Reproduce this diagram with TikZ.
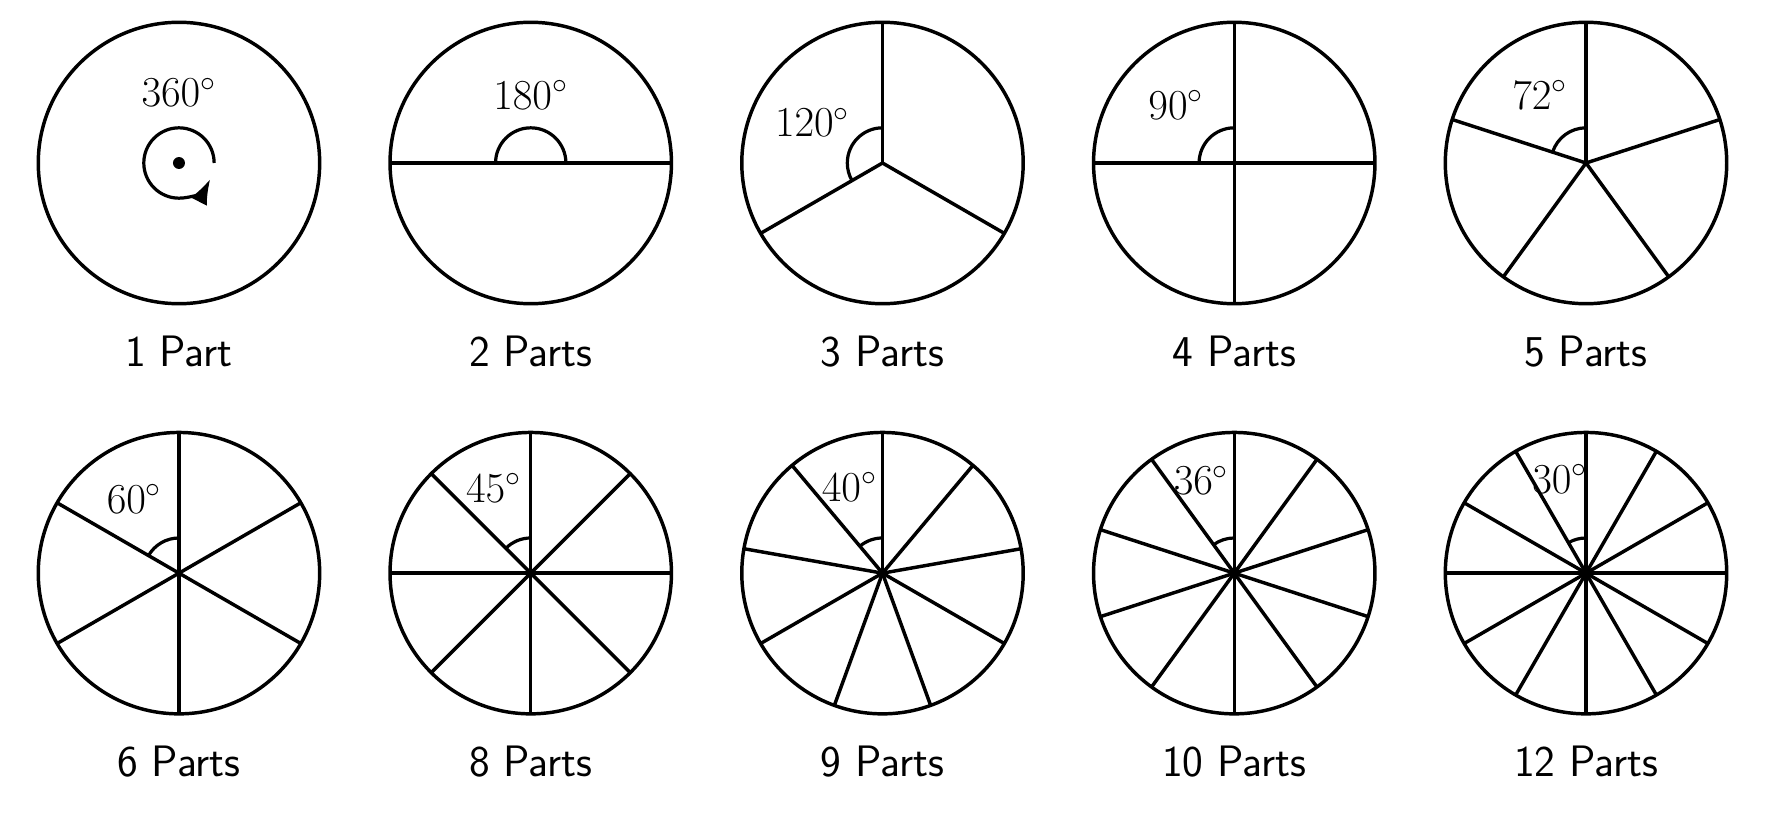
\documentclass[tikz,border=0pt]{standalone}
\usetikzlibrary{arrows.meta}

\tikzset{
	disc/.style={line width=1.4pt},
	spoke/.style={line width=1.4pt},
	anglemark/.style={line width=1.3pt},
	degreelabel/.style={inner sep=0pt, font=\fontsize{17.6}{20}\selectfont},
	partlabel/.style={inner sep=0pt, font=\sffamily\fontsize{17.8}{20}\selectfont},
}

\begin{document}
\begin{tikzpicture}
		% Fix the page to the size of the reference
		\useasboundingbox (-2.544,2.317) rectangle (22.587,-9.341);

		% Centres of the ten discs
		\coordinate (c1) at (0,0);
		\coordinate (c2) at (5,0);
		\coordinate (c3) at (10,0);
		\coordinate (c4) at (15,0);
		\coordinate (c5) at (20,0);
		\coordinate (c6) at (0,-5.83);
		\coordinate (c8) at (5,-5.83);
		\coordinate (c9) at (10,-5.83);
		\coordinate (c10) at (15,-5.83);
		\coordinate (c12) at (20,-5.83);

		% 1 Part: full turn round the centre dot
		\draw[disc] (c1) circle (2);
		\fill (c1) circle (0.085);
		\draw[anglemark, -{Latex[length=3.6mm,width=2.6mm]}] (c1) ++(0:0.5) arc[start angle=0, end angle=333, radius=0.5];
		\node[degreelabel] (d1) at ([shift={(90:1)}]c1) {$360^\circ$};
		\node[partlabel] (p1) at ([yshift=-2.68cm]c1) {1 Part};

		% 2 Parts
		\draw[disc] (c2) circle (2);
		\draw[spoke] (c2) -- ++(0:2);
		\draw[spoke] (c2) -- ++(180:2);
		\draw[anglemark] (c2) ++(0:0.5) arc[start angle=0, end angle=180, radius=0.5];
		\node[degreelabel] (d2) at ([shift={(90:0.97)}]c2) {$180^\circ$};
		\node[partlabel] (p2) at ([yshift=-2.68cm]c2) {2 Parts};

		% 3 Parts
		\draw[disc] (c3) circle (2);
		\foreach \a in {90,210,330} \draw[spoke] (c3) -- ++(\a:2);
		\draw[anglemark] (c3) ++(90:0.5) arc[start angle=90, end angle=210, radius=0.5];
		\node[degreelabel] (d3) at ([shift={(150:1.15)}]c3) {$120^\circ$};
		\node[partlabel] (p3) at ([yshift=-2.68cm]c3) {3 Parts};

		% 4 Parts
		\draw[disc] (c4) circle (2);
		\foreach \a in {0,90,180,270} \draw[spoke] (c4) -- ++(\a:2);
		\draw[anglemark] (c4) ++(90:0.5) arc[start angle=90, end angle=180, radius=0.5];
		\node[degreelabel] (d4) at ([shift={(135:1.17)}]c4) {$90^\circ$};
		\node[partlabel] (p4) at ([yshift=-2.68cm]c4) {4 Parts};

		% 5 Parts
		\draw[disc] (c5) circle (2);
		\foreach \a in {18,90,162,234,306} \draw[spoke] (c5) -- ++(\a:2);
		\draw[anglemark] (c5) ++(90:0.5) arc[start angle=90, end angle=162, radius=0.5];
		\node[degreelabel] (d5) at ([shift={(124:1.17)}]c5) {$72^\circ$};
		\node[partlabel] (p5) at ([yshift=-2.68cm]c5) {5 Parts};

		% 6 Parts
		\draw[disc] (c6) circle (2);
		\foreach \a in {30,90,...,330} \draw[spoke] (c6) -- ++(\a:2);
		\draw[anglemark] (c6) ++(90:0.5) arc[start angle=90, end angle=150, radius=0.5];
		\node[degreelabel] (d6) at ([shift={(121:1.23)}]c6) {$60^\circ$};
		\node[partlabel] (p6) at ([yshift=-2.68cm]c6) {6 Parts};

		% 8 Parts
		\draw[disc] (c8) circle (2);
		\foreach \a in {0,45,...,315} \draw[spoke] (c8) -- ++(\a:2);
		\draw[anglemark] (c8) ++(90:0.5) arc[start angle=90, end angle=135, radius=0.5];
		\node[degreelabel] (d8) at ([shift={(113.5:1.32)}]c8) {$45^\circ$};
		\node[partlabel] (p8) at ([yshift=-2.68cm]c8) {8 Parts};

		% 9 Parts
		\draw[disc] (c9) circle (2);
		\foreach \a in {10,50,...,330} \draw[spoke] (c9) -- ++(\a:2);
		\draw[anglemark] (c9) ++(90:0.5) arc[start angle=90, end angle=130, radius=0.5];
		\node[degreelabel] (d9) at ([shift={(111:1.31)}]c9) {$40^\circ$};
		\node[partlabel] (p9) at ([yshift=-2.68cm]c9) {9 Parts};

		% 10 Parts
		\draw[disc] (c10) circle (2);
		\foreach \a in {18,54,...,342} \draw[spoke] (c10) -- ++(\a:2);
		\draw[anglemark] (c10) ++(90:0.5) arc[start angle=90, end angle=126, radius=0.5];
		\node[degreelabel] (d10) at ([shift={(109.5:1.4)}]c10) {$36^\circ$};
		\node[partlabel] (p10) at ([yshift=-2.68cm]c10) {10 Parts};

		% 12 Parts
		\draw[disc] (c12) circle (2);
		\foreach \a in {0,30,...,330} \draw[spoke] (c12) -- ++(\a:2);
		\draw[anglemark] (c12) ++(90:0.5) arc[start angle=90, end angle=120, radius=0.5];
		\node[degreelabel] (d12) at ([shift={(105.5:1.39)}]c12) {$30^\circ$};
		\node[partlabel] (p12) at ([yshift=-2.68cm]c12) {12 Parts};
\end{tikzpicture}
\end{document}
